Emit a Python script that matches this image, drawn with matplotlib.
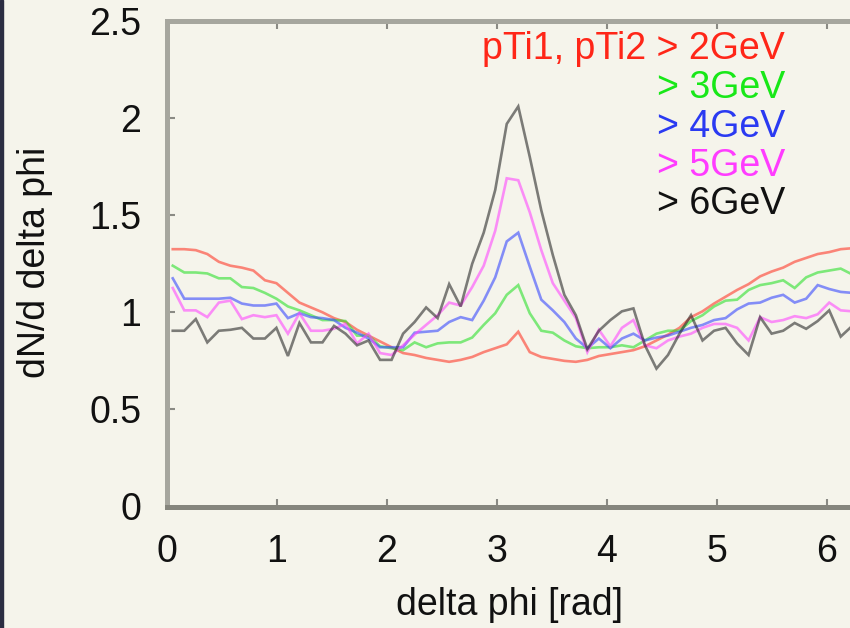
import numpy as np
import matplotlib
matplotlib.use("Agg")
import matplotlib.pyplot as plt
from matplotlib.patches import Rectangle

plt.rcParams['font.family'] = ['Liberation Sans', 'DejaVu Sans']

# azimuthal correlation, 60 bins over [0, 2pi]
n_bins = 60
edges = np.linspace(0.0, 2 * np.pi, n_bins + 1)
dphi = 0.5 * (edges[:-1] + edges[1:])

pt2 = [1.325, 1.325, 1.32, 1.30, 1.26, 1.24, 1.23, 1.215, 1.165, 1.15,
       1.10, 1.05, 1.025, 1.00, 0.97, 0.95, 0.91, 0.88, 0.85, 0.82,
       0.79, 0.78, 0.765, 0.755, 0.745, 0.755, 0.77, 0.795, 0.815, 0.835,
       0.90, 0.795, 0.77, 0.76, 0.75, 0.745, 0.755, 0.775, 0.785, 0.795,
       0.805, 0.825, 0.855, 0.885, 0.92, 0.975, 1.005, 1.045, 1.08, 1.115,
       1.145, 1.185, 1.21, 1.23, 1.26, 1.28, 1.30, 1.31, 1.325, 1.33]

pt3 = [1.24, 1.205, 1.205, 1.20, 1.175, 1.175, 1.13, 1.125, 1.10, 1.07,
       1.03, 1.01, 0.985, 0.96, 0.96, 0.955, 0.88, 0.88, 0.825, 0.815,
       0.805, 0.845, 0.82, 0.84, 0.845, 0.845, 0.87, 0.935, 0.995, 1.09,
       1.14, 0.995, 0.905, 0.895, 0.855, 0.825, 0.815, 0.82, 0.82, 0.83,
       0.82, 0.855, 0.89, 0.905, 0.905, 0.955, 0.985, 1.03, 1.06, 1.065,
       1.115, 1.14, 1.15, 1.165, 1.125, 1.18, 1.205, 1.215, 1.225, 1.195]

pt4 = [1.175, 1.07, 1.07, 1.07, 1.07, 1.075, 1.045, 1.035, 1.035, 1.045,
       0.97, 0.995, 0.975, 0.97, 0.96, 0.92, 0.895, 0.865, 0.82, 0.82,
       0.82, 0.895, 0.90, 0.905, 0.95, 0.975, 0.96, 1.06, 1.18, 1.365,
       1.41, 1.235, 1.065, 1.01, 0.95, 0.865, 0.815, 0.865, 0.815, 0.865,
       0.89, 0.855, 0.87, 0.88, 0.90, 0.92, 0.935, 0.96, 0.97, 1.015,
       1.045, 1.05, 1.075, 1.09, 1.05, 1.07, 1.14, 1.12, 1.105, 1.10]

pt5 = [1.125, 1.01, 1.01, 0.975, 1.05, 1.06, 0.965, 0.985, 0.975, 0.985,
       0.89, 0.995, 0.905, 0.905, 0.915, 0.94, 0.84, 0.89, 0.79, 0.78,
       0.83, 0.885, 0.935, 0.985, 1.05, 1.035, 1.13, 1.24, 1.42, 1.69,
       1.68, 1.515, 1.32, 1.15, 1.06, 0.97, 0.795, 0.91, 0.825, 0.92,
       0.96, 0.83, 0.815, 0.855, 0.875, 0.89, 0.92, 0.94, 0.94, 0.92,
       0.855, 0.975, 0.95, 0.96, 0.98, 0.97, 0.99, 1.05, 1.01, 1.005]

pt6 = [0.905, 0.905, 0.965, 0.845, 0.905, 0.91, 0.92, 0.865, 0.865, 0.92,
       0.775, 0.945, 0.845, 0.845, 0.93, 0.89, 0.83, 0.855, 0.755, 0.755,
       0.89, 0.95, 1.025, 0.97, 1.145, 1.03, 1.25, 1.41, 1.63, 1.97,
       2.06, 1.80, 1.525, 1.295, 1.09, 0.985, 0.81, 0.905, 0.96, 1.005,
       1.02, 0.83, 0.71, 0.78, 0.89, 0.985, 0.855, 0.905, 0.92, 0.84,
       0.78, 0.975, 0.89, 0.905, 0.945, 0.915, 0.955, 1.01, 0.875, 0.93]

series = [pt2, pt3, pt4, pt5, pt6]
line_colors = ['#ff3a2a', '#2ee02e', '#3848ff', '#ff48ff', '#2a2a2a']
text_colors = ['#ff2618', '#18e818', '#2a3af2', '#ff3cff', '#111111']
labels = ['pTi1, pTi2 > 2GeV', '> 3GeV', '> 4GeV', '> 5GeV', '> 6GeV']

xticks = [0, 1, 2, 3, 4, 5, 6]
yticks = [0, 0.5, 1, 1.5, 2, 2.5]
ytick_labels = ['0', '0.5', '1', '1.5', '2', '2.5']

W, H = 850, 628
bg = '#f5f4eb'
fig = plt.figure(figsize=(W / 100, H / 100), dpi=100, facecolor=bg)

x0, x1 = 167, 858
y_top, y_bot = 21, 506.5
ax = fig.add_axes([x0 / W, (H - y_bot) / H, (x1 - x0) / W, (y_bot - y_top) / H])
ax.set_facecolor(bg)

for vals, c in zip(series, line_colors):
    ax.plot(dphi, vals, color=c, lw=1.9, alpha=0.6, solid_joinstyle='miter')

ax.set_xlim(0, 2 * np.pi)
ax.set_ylim(0, 2.5)
ax.set_xticks(xticks)
ax.set_xticklabels([str(t) for t in xticks])
ax.set_yticks(yticks)
ax.set_yticklabels(ytick_labels)

fs = 27
ax.tick_params(axis='both', which='major', direction='in', length=6, width=1.5,
               color='#8a8a84', labelsize=fs, labelcolor='#111111',
               top=True, right=True)
ax.tick_params(axis='x', pad=20)
ax.tick_params(axis='y', pad=18.5)

for side in ['left', 'top', 'right']:
    ax.spines[side].set_color('#a6a69e')
    ax.spines[side].set_linewidth(3.6)
ax.spines['bottom'].set_color('#85857d')
ax.spines['bottom'].set_linewidth(3.6)

fig.text(510 / W, 1 - 605 / H, 'delta phi [rad]', fontsize=fs, ha='center',
         va='center', color='#111111')
fig.text(35 / W, 1 - 262 / H, 'dN/d delta phi', fontsize=fs, rotation=90,
         ha='center', va='center', color='#111111')

row_y = [49, 88, 127, 166, 204]
for lab, c, yy in zip(labels, text_colors, row_y):
    fig.text(785 / W, 1 - yy / H, lab, fontsize=fs, ha='right', va='center',
             color=c)

fig.add_artist(Rectangle((0, 0), 2.5 / W, 1, transform=fig.transFigure,
                         color='#2b2d42', zorder=10))

fig.savefig('out.png', dpi=100, facecolor=bg)
